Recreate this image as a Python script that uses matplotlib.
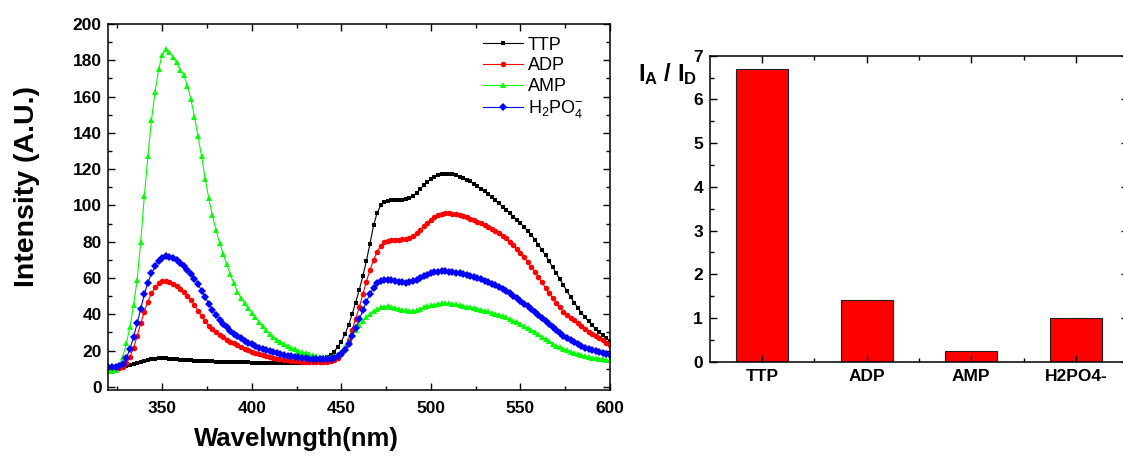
import numpy as np
import matplotlib
matplotlib.use("Agg")
import matplotlib.pyplot as plt
from matplotlib.ticker import MultipleLocator, FixedLocator

plt.rcParams['font.family'] = ['Liberation Sans', 'DejaVu Sans']
plt.rcParams['mathtext.fontset'] = 'custom'
plt.rcParams['mathtext.rm'] = 'Liberation Sans'
plt.rcParams['mathtext.it'] = 'Liberation Sans:italic'
plt.rcParams['mathtext.bf'] = 'Liberation Sans:bold'

# ---------------- data ----------------
wavelength = list(range(320, 602, 2))

ttp = [10.5, 10.5, 10.6, 10.8, 11.0, 11.4, 11.9, 12.5, 13.1, 13.7,
       14.2, 14.7, 15.1, 15.5, 15.7, 15.8, 15.8, 15.6, 15.4, 15.2,
       15.0, 14.9, 14.8, 14.6, 14.5, 14.4, 14.3, 14.2, 14.1, 14.0,
       13.9, 13.8, 13.8, 13.7, 13.7, 13.6, 13.6, 13.5, 13.5, 13.5,
       13.4, 13.4, 13.3, 13.3, 13.3, 13.2, 13.2, 13.2, 13.1, 13.1,
       13.1, 13.1, 13.2, 13.2, 13.3, 13.4, 13.5, 13.7, 14.0, 14.5,
       15.3, 16.3, 17.5, 19.5, 22.0, 25.0, 29.0, 34.0, 40.0, 46.5,
       53.5, 61.0, 69.5, 79.0, 89.0, 96.0, 100.0, 102.0, 102.6, 102.8,
       102.9, 103.0, 103.1, 103.5, 104.2, 105.3, 107.0, 109.0, 111.0, 113.0,
       114.6, 115.8, 116.6, 117.1, 117.4, 117.4, 117.1, 116.6, 115.9, 115.1,
       114.2, 113.2, 112.0, 110.6, 109.2, 107.7, 106.1, 104.5, 102.8, 101.1,
       99.4, 97.6, 95.8, 93.9, 92.0, 90.1, 88.1, 86.0, 83.8, 81.2,
       78.4, 75.5, 72.5, 69.3, 66.0, 62.7, 59.4, 56.0, 52.7, 49.5,
       46.5, 43.6, 40.9, 38.4, 36.1, 34.0, 32.0, 30.2, 28.5, 26.8,
       25.2]

adp = [10.0, 10.0, 10.1, 10.3, 11.0, 13.0, 16.5, 21.5, 28.0, 35.0,
       41.5, 47.0, 51.5, 54.8, 57.0, 58.1, 58.3, 57.8, 56.8, 55.5,
       54.0, 52.3, 50.2, 47.7, 45.0, 42.0, 39.0, 36.2, 33.8, 31.7,
       30.0, 28.6, 27.3, 26.1, 25.0, 24.0, 23.0, 22.0, 21.1, 20.2,
       19.4, 18.7, 18.0, 17.4, 16.8, 16.3, 15.9, 15.5, 15.2, 14.9,
       14.6, 14.4, 14.2, 14.0, 13.9, 13.8, 13.7, 13.6, 13.6, 13.6,
       13.7, 13.9, 14.3, 15.0, 16.2, 18.3, 21.5, 26.0, 31.5, 37.5,
       44.0, 51.0, 58.0, 64.5, 70.0, 74.5, 77.8, 79.6, 80.5, 80.9,
       81.1, 81.2, 81.3, 81.6, 82.2, 83.2, 84.7, 86.6, 88.6, 90.5,
       92.2, 93.5, 94.5, 95.2, 95.6, 95.7, 95.5, 95.1, 94.7, 94.1,
       93.4, 92.6, 91.8, 91.0, 90.1, 89.2, 88.2, 87.1, 86.0, 84.8,
       83.4, 81.8, 80.1, 78.2, 76.1, 73.9, 71.5, 69.0, 66.3, 63.5,
       60.6, 57.6, 54.6, 51.6, 48.9, 46.2, 43.8, 41.5, 39.8, 38.2,
       36.6, 35.0, 33.4, 31.9, 30.5, 29.2, 28.0, 26.8, 25.6, 24.4,
       23.3]

amp = [8.8, 9.0, 9.4, 12.0, 16.5, 24.0, 33.0, 45.0, 59.0, 80.0,
       105.0, 127.0, 147.0, 162.5, 175.0, 183.0, 186.0, 184.5, 182.0, 178.8,
       174.8, 172.0, 166.0, 158.5, 149.0, 138.0, 127.0, 114.5, 104.0, 94.5,
       86.5, 79.5, 73.5, 67.5, 62.0, 57.0, 52.5, 49.0, 46.0, 43.5,
       41.0, 38.5, 36.0, 33.5, 31.3, 29.3, 27.6, 26.1, 24.8, 23.6,
       22.6, 21.6, 20.7, 19.9, 19.2, 18.5, 17.9, 17.4, 17.0, 16.7,
       16.5, 16.5, 16.6, 17.0, 17.8, 19.5, 22.0, 25.0, 28.5, 31.5,
       34.0, 36.5, 38.5, 40.2, 41.6, 42.8, 43.8, 44.3, 44.5, 44.2,
       43.6, 43.0, 42.5, 42.2, 42.0, 42.0, 42.3, 43.0, 43.8, 44.5,
       45.0, 45.4, 45.8, 46.0, 46.1, 46.1, 45.9, 45.5, 45.1, 44.7,
       44.3, 43.9, 43.5, 43.1, 42.6, 42.1, 41.6, 41.0, 40.4, 39.8,
       39.1, 38.3, 37.4, 36.5, 35.6, 34.6, 33.6, 32.5, 31.4, 30.2,
       29.0, 27.7, 26.4, 25.1, 23.8, 22.6, 22.0, 21.0, 20.2, 19.4,
       18.7, 18.1, 17.5, 17.0, 16.6, 16.2, 15.9, 15.6, 15.3, 14.9,
       14.7]

h2po4 = [11.0, 11.0, 11.2, 11.6, 12.5, 16.0, 21.0, 27.5, 35.0, 43.0,
         51.0, 57.5, 62.5, 66.5, 69.5, 71.3, 72.0, 71.8, 71.0, 69.8,
         68.3, 66.6, 64.6, 62.3, 59.6, 56.5, 53.0, 49.3, 45.8, 42.6,
         39.7, 37.1, 34.8, 32.8, 31.0, 29.4, 28.0, 26.7, 25.5, 24.4,
         23.4, 22.5, 21.7, 21.0, 20.3, 19.7, 19.1, 18.6, 18.1, 17.7,
         17.3, 16.9, 16.6, 16.3, 16.0, 15.8, 15.6, 15.4, 15.3, 15.2,
         15.2, 15.2, 15.4, 15.9, 16.8, 18.3, 20.6, 23.8, 27.8, 32.3,
         37.2, 42.2, 47.0, 51.2, 54.6, 57.0, 58.4, 59.0, 59.1, 58.8,
         58.3, 57.9, 57.6, 57.5, 57.7, 58.2, 59.0, 60.0, 61.0, 61.9,
         62.6, 63.1, 63.4, 63.6, 63.6, 63.5, 63.3, 63.0, 62.6, 62.2,
         61.7, 61.2, 60.6, 60.0, 59.3, 58.6, 57.8, 56.9, 56.0, 55.0,
         53.9, 52.7, 51.5, 50.2, 48.8, 47.4, 45.9, 44.4, 42.8, 41.2,
         39.5, 37.8, 36.1, 34.4, 32.8, 31.2, 29.7, 28.3, 27.0, 25.8,
         24.6, 23.6, 22.6, 21.7, 20.9, 20.2, 19.6, 19.0, 18.5, 18.0,
         17.6]

bar_labels = ['TTP', 'ADP', 'AMP', 'H2PO4-']
ratio_values = [6.7, 1.41, 0.25, 1.0]

series_names = ['TTP', 'ADP', 'AMP', r'H$_2$PO$_4^{-}$']

# ---------------- figure ----------------
fig = plt.figure(figsize=(11.23, 4.63), dpi=100)
ax1 = fig.add_axes([0.0966, 0.1577, 0.4466, 0.7905])
ax2 = fig.add_axes([0.6322, 0.2188, 0.3723, 0.6609])

styles = [
    dict(color='#000000', marker='s', ms=3.5),
    dict(color='#ff0000', marker='o', ms=4.0),
    dict(color='#00ff00', marker='^', ms=4.8),
    dict(color='#0000ff', marker='D', ms=3.7),
]
for ys, name, st in zip([ttp, adp, amp, h2po4], series_names, styles):
    ax1.plot(wavelength, ys, linestyle='-', lw=0.8, color=st['color'],
             marker=st['marker'], ms=st['ms'], mew=0, label=name)

ax1.set_xlim(320, 600)
ax1.set_ylim(-1.7, 200)
ax1.xaxis.set_major_locator(MultipleLocator(50))
ax1.xaxis.set_minor_locator(MultipleLocator(25))
ax1.yaxis.set_major_locator(MultipleLocator(20))
ax1.yaxis.set_minor_locator(MultipleLocator(10))

for ax in (ax1, ax2):
    ax.tick_params(which='both', direction='in', top=True, right=True, width=1.0,
                   labelsize=12.5, pad=5)
    ax.tick_params(which='major', length=5)
    ax.tick_params(which='minor', length=3)
    for s in ax.spines.values():
        s.set_linewidth(1.1)
ax1.tick_params(axis='x', pad=8)

ax1.set_ylabel('Intensity (A.U.)', fontsize=20.5, fontweight='bold')
ax1.yaxis.set_label_coords(-0.137, 0.556)
ax1.set_xlabel('Wavelwngth(nm)', fontsize=18.5, fontweight='bold')
ax1.xaxis.set_label_coords(0.375, -0.10)

leg = ax1.legend(frameon=False, loc='upper left', bbox_to_anchor=(0.725, 0.995),
                 fontsize=13, handlelength=2.2, labelspacing=0.2,
                 handletextpad=0.3, borderaxespad=0.2)

# bar chart
xpos = np.arange(len(bar_labels))
ax2.bar(xpos, ratio_values, width=0.5, color='#ff0000', edgecolor='#202020', lw=0.8)
ax2.set_xlim(-0.5, 3.5)
ax2.set_ylim(0, 7)
ax2.set_xticks(xpos)
ax2.set_xticklabels(bar_labels)
ax2.xaxis.set_minor_locator(FixedLocator([0.5, 1.5, 2.5]))
ax2.yaxis.set_major_locator(MultipleLocator(1))
ax2.yaxis.set_minor_locator(MultipleLocator(0.5))

for ax in (ax1, ax2):
    for lab in ax.get_xticklabels() + ax.get_yticklabels():
        lab.set_fontweight('bold')

fig.text(638 / 1123, 1 - 81 / 463, r'$\mathbf{I_A}$ / $\mathbf{I_D}$', fontsize=17,
         fontweight='bold', ha='left', va='baseline')

fig.savefig('out.png', dpi=100)
